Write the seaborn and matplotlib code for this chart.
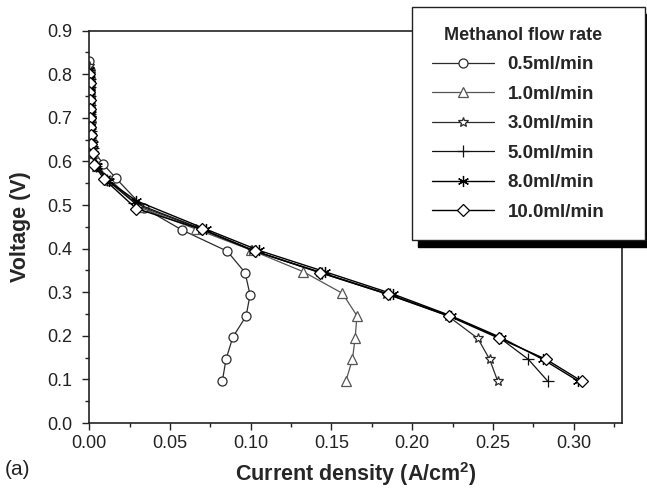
import numpy as np, pandas as pd
import matplotlib
matplotlib.use("Agg")
import matplotlib.pyplot as plt
import seaborn as sns

# ---------------- DATA ----------------
labels = ["0.5ml/min", "1.0ml/min", "3.0ml/min", "5.0ml/min", "8.0ml/min", "10.0ml/min"]

v_05 = [0.83, 0.81, 0.79, 0.77, 0.75, 0.73, 0.71, 0.69, 0.67, 0.65, 0.63, 0.594, 0.561, 0.493, 0.443, 0.394, 0.345, 0.294, 0.245, 0.197, 0.146, 0.096]
i_05 = [0.0, 0.0003, 0.0002, 0.0005, 0.0003, 0.0006, 0.0004, 0.0008, 0.0006, 0.0010, 0.0015, 0.0087, 0.0166, 0.034, 0.0573, 0.0855, 0.0965, 0.0996, 0.0971, 0.0889, 0.0847, 0.0824]

v_10 = [0.82, 0.80, 0.78, 0.76, 0.74, 0.72, 0.70, 0.68, 0.66, 0.64, 0.62, 0.59, 0.558, 0.495, 0.445, 0.397, 0.347, 0.2975, 0.246, 0.196, 0.146, 0.097]
i_10 = [0.0, 0.0004, 0.0002, 0.0005, 0.0003, 0.0006, 0.0004, 0.0007, 0.0006, 0.0009, 0.002, 0.005, 0.013, 0.031, 0.066, 0.100, 0.1326, 0.1568, 0.1658, 0.1647, 0.163, 0.159]

v_30 = [0.82, 0.80, 0.78, 0.76, 0.74, 0.72, 0.70, 0.68, 0.66, 0.64, 0.62, 0.592, 0.558, 0.498, 0.445, 0.396, 0.346, 0.296, 0.246, 0.194, 0.146, 0.096]
i_30 = [0.0, 0.0003, 0.0006, 0.0002, 0.0007, 0.0003, 0.0008, 0.0004, 0.0009, 0.0012, 0.002, 0.004, 0.011, 0.031, 0.069, 0.101, 0.142, 0.184, 0.222, 0.2407, 0.248, 0.253]

v_50 = [0.81, 0.79, 0.77, 0.75, 0.73, 0.71, 0.69, 0.67, 0.65, 0.63, 0.59, 0.557, 0.505, 0.445, 0.394, 0.345, 0.295, 0.246, 0.196, 0.146, 0.096]
i_50 = [0.0, 0.0004, 0.0002, 0.0006, 0.0003, 0.0007, 0.0004, 0.0008, 0.0011, 0.002, 0.004, 0.011, 0.028, 0.070, 0.103, 0.144, 0.186, 0.223, 0.254, 0.272, 0.284]

v_80 = [0.81, 0.79, 0.77, 0.75, 0.73, 0.71, 0.69, 0.67, 0.65, 0.64, 0.59, 0.555, 0.51, 0.445, 0.396, 0.347, 0.296, 0.246, 0.196, 0.146, 0.096]
i_80 = [0.0, 0.0006, 0.0003, 0.0007, 0.0002, 0.0008, 0.0004, 0.0009, 0.0012, 0.002, 0.005, 0.012, 0.029, 0.072, 0.105, 0.146, 0.188, 0.224, 0.255, 0.281, 0.303]

v_100 = [0.80, 0.78, 0.76, 0.74, 0.72, 0.70, 0.68, 0.66, 0.64, 0.62, 0.592, 0.559, 0.492, 0.444, 0.394, 0.345, 0.295, 0.245, 0.194, 0.146, 0.096]
i_100 = [0.0, 0.0004, 0.0001, 0.0005, 0.0002, 0.0006, 0.0003, 0.0008, 0.0012, 0.002, 0.003, 0.0093, 0.029, 0.0697, 0.1027, 0.143, 0.1853, 0.223, 0.254, 0.283, 0.305]

series = [(v_05, i_05), (v_10, i_10), (v_30, i_30), (v_50, i_50), (v_80, i_80), (v_100, i_100)]

# ---------------- STYLE ----------------
markers = ["o", "^", "*", "+", (6, 2, 0), "D"]
msizes = [6.5, 6.5, 7.5, 8, 8, 6.5]
colors = ["#2b2b2b", "#555555", "#2b2b2b", "#111111", "#000000", "#000000"]
lws = [0.9, 0.9, 0.9, 0.9, 1.0, 1.0]

sns.set_style("ticks")
plt.rcParams['font.family'] = ['Liberation Sans', 'DejaVu Sans']
plt.rcParams['mathtext.fontset'] = 'custom'
plt.rcParams['mathtext.bf'] = 'Liberation Sans:bold'
plt.rcParams['mathtext.rm'] = 'Liberation Sans'

fig = plt.figure(figsize=(6.47, 4.94), dpi=100)
ax = fig.add_axes([0.138, 0.1437, 0.9614 - 0.138, 0.9379 - 0.1437])

for (v, i), lab, m, ms, c, lw in zip(series, labels, markers, msizes, colors, lws):
    df = pd.DataFrame({"I": i, "V": v})
    sns.lineplot(data=df, x="I", y="V", ax=ax, sort=False, estimator=None,
                 color=c, lw=lw, marker=m, markersize=ms, markerfacecolor="white",
                 markeredgecolor=c, markeredgewidth=0.9, label=lab)

ax.set_xlim(0, 0.33)
ax.set_ylim(0, 0.9)
ax.set_xticks(np.arange(0, 0.301, 0.05))
ax.set_xticks(np.arange(0.025, 0.33, 0.05), minor=True)
ax.set_yticks(np.arange(0, 0.901, 0.1))
ax.set_yticks(np.arange(0.05, 0.9, 0.1), minor=True)
ax.set_xticklabels([f"{t:.2f}" for t in np.arange(0, 0.301, 0.05)])
ax.set_yticklabels([f"{t:.1f}" for t in np.arange(0, 0.901, 0.1)])
ax.tick_params(which="major", length=5, width=1, labelsize=13, color="#222222", labelcolor="#222222")
ax.tick_params(which="minor", length=3, width=1, color="#222222")
ax.tick_params(axis="y", which="major", pad=7)
for s in ax.spines.values():
    s.set_visible(True)
    s.set_linewidth(1.2)
    s.set_color("#222222")

ax.set_xlabel(r"Current density (A/cm$^{\mathbf{2}}$)", fontsize=15.5, fontweight="bold", labelpad=6)
ax.set_ylabel("Voltage (V)", fontsize=15.5, fontweight="bold", labelpad=12)
fig.text(0.008, 0.038, "(a)", fontsize=15, color="#222222")

handles = ax.get_lines()[:len(labels)]
leg = ax.legend(handles, labels, title="Methanol flow rate  ", loc="upper left",
                bbox_to_anchor=(412 / 647, 1 - 7 / 494 - 0.01, 233 / 647, 0.01),
                bbox_transform=fig.transFigure, mode="expand", borderaxespad=0,
                prop={"weight": "bold", "size": 13.5},
                title_fontproperties={"weight": "bold", "size": 13},
                handlelength=3.3, handletextpad=0.75, labelspacing=0.66, borderpad=1.05,
                numpoints=1, fancybox=False, frameon=True,
                shadow={"ox": 4, "oy": -5, "color": "black", "alpha": 1})
leg.get_frame().set_edgecolor("#222222")
leg.get_frame().set_linewidth(1.0)

fig.savefig("out.png", dpi=100)
